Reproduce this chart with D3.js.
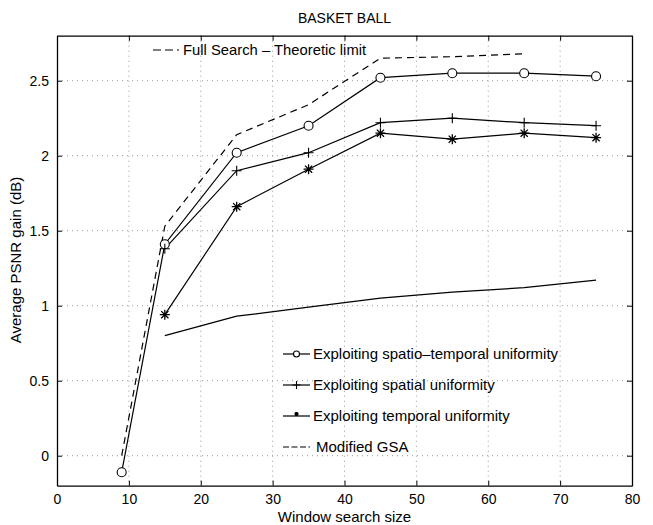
<!DOCTYPE html>
<html>
<head>
<meta charset="utf-8">
<script src="https://cdn.jsdelivr.net/npm/d3@7"></script>
<style>
  body { margin: 0; background: #fff; }
  svg { font-family: "Liberation Sans", Arial, Helvetica, sans-serif; }
</style>
</head>
<body>
<svg id="chart"></svg>
<script>
// ******************** Data ************************
var xFull = [9, 15, 25, 35, 45, 55, 65];
var fullSearch = [0.0, 1.53, 2.14, 2.34, 2.65, 2.66, 2.68];

var xSt = [9, 15, 25, 35, 45, 55, 65, 75];
var spatioTemporal = [-0.11, 1.41, 2.02, 2.2, 2.52, 2.55, 2.55, 2.53];

var xRest = [15, 25, 35, 45, 55, 65, 75];
var spatial = [1.38, 1.90, 2.02, 2.22, 2.25, 2.22, 2.20];
var temporal = [0.94, 1.66, 1.91, 2.15, 2.11, 2.15, 2.12];
var gsa = [0.80, 0.93, 0.99, 1.05, 1.09, 1.12, 1.17];

var xTicks = [0, 10, 20, 30, 40, 50, 60, 70, 80];
var yTicks = [0, 0.5, 1, 1.5, 2, 2.5];

var legendLabels = [
    "Exploiting spatio\u2013temporal uniformity",
    "Exploiting spatial uniformity",
    "Exploiting temporal uniformity",
    "Modified GSA"
];

// ******************** Setup ************************
var W = 653, H = 525;
var svg = d3.select("#chart").attr("width", W).attr("height", H);

var x = d3.scaleLinear().domain([0, 80]).range([57, 632]);
var y = d3.scaleLinear().domain([-0.2, 2.8]).range([485.7, 35.7]);

// grid
var grid = svg.append("g")
    .attr("stroke", "#999")
    .attr("stroke-width", 1)
    .attr("stroke-dasharray", "1,4");
grid.selectAll(".gx").data(xTicks.slice(1, -1)).enter().append("line")
    .attr("x1", x).attr("x2", x)
    .attr("y1", y(2.8)).attr("y2", y(-0.2));
grid.selectAll(".gy").data(yTicks).enter().append("line")
    .attr("x1", x(0)).attr("x2", x(80))
    .attr("y1", y).attr("y2", y);

// axes: ticks pointing inward, on all four sides
svg.append("g")
    .attr("transform", "translate(0," + y(-0.2) + ")")
    .call(d3.axisBottom(x).tickValues(xTicks).tickSizeInner(-5).tickSizeOuter(0).tickPadding(8));
svg.append("g")
    .attr("transform", "translate(0," + y(2.8) + ")")
    .call(d3.axisTop(x).tickValues(xTicks).tickSizeInner(-5).tickSizeOuter(0).tickFormat(""));
svg.append("g")
    .attr("transform", "translate(" + x(0) + ",0)")
    .call(d3.axisLeft(y).tickValues(yTicks).tickSizeInner(-5).tickSizeOuter(0).tickPadding(8).tickFormat(d3.format("")));
svg.append("g")
    .attr("transform", "translate(" + x(80) + ",0)")
    .call(d3.axisRight(y).tickValues(yTicks).tickSizeInner(-5).tickSizeOuter(0).tickFormat(""));

svg.selectAll(".domain").attr("stroke", "#000").attr("stroke-width", 1.3);
svg.selectAll(".tick line").attr("stroke", "#000");
svg.selectAll(".tick text").attr("font-size", 14).attr("fill", "#000")
    .attr("font-family", "Liberation Sans, Arial, sans-serif");

// ******************** Lines ************************
var line = d3.line();
function pts(xs, ys) { return xs.map(function (d, i) { return [x(d), y(ys[i])]; }); }

svg.append("path").attr("d", line(pts(xFull, fullSearch)))
    .attr("fill", "none").attr("stroke", "#000").attr("stroke-width", 1.2)
    .attr("stroke-dasharray", "7,5");

[[xSt, spatioTemporal], [xRest, spatial], [xRest, temporal], [xRest, gsa]].forEach(function (s) {
    svg.append("path").attr("d", line(pts(s[0], s[1])))
        .attr("fill", "none").attr("stroke", "#000").attr("stroke-width", 1.2);
});

// markers
function circleMark(g, px, py, r) {
    g.append("circle").attr("cx", px).attr("cy", py).attr("r", r)
        .attr("fill", "#fff").attr("stroke", "#000").attr("stroke-width", 1.1);
}
function plusMark(g, px, py, s) {
    g.append("path").attr("d", "M" + (px - s) + "," + py + "H" + (px + s) + "M" + px + "," + (py - s) + "V" + (py + s))
        .attr("stroke", "#000").attr("stroke-width", 1.1);
}
function starMark(g, px, py, s) {
    var d = s * 0.72;
    g.append("path").attr("d",
        "M" + (px - s) + "," + py + "H" + (px + s) +
        "M" + px + "," + (py - s) + "V" + (py + s) +
        "M" + (px - d) + "," + (py - d) + "L" + (px + d) + "," + (py + d) +
        "M" + (px - d) + "," + (py + d) + "L" + (px + d) + "," + (py - d))
        .attr("stroke", "#000").attr("stroke-width", 1.3);
}

var mk = svg.append("g");
xSt.forEach(function (d, i) { circleMark(mk, x(d), y(spatioTemporal[i]), 4.5); });
xRest.forEach(function (d, i) { plusMark(mk, x(d), y(spatial[i]), 5); });
xRest.forEach(function (d, i) { starMark(mk, x(d), y(temporal[i]), 5); });

// ******************** Text ************************
svg.append("text").attr("x", 344.5).attr("y", 23).attr("text-anchor", "middle")
    .attr("font-size", 14).text("BASKET BALL");
svg.append("text").attr("x", 344.5).attr("y", 522).attr("text-anchor", "middle")
    .attr("font-size", 15).text("Window search size");
svg.append("text").attr("transform", "translate(21,260) rotate(-90)").attr("text-anchor", "middle")
    .attr("font-size", 15).text("Average PSNR gain (dB)");

// top legend (full search)
svg.append("line").attr("x1", 153).attr("x2", 179).attr("y1", 50).attr("y2", 50)
    .attr("stroke", "#000").attr("stroke-width", 1.2).attr("stroke-dasharray", "8,4");
svg.append("text").attr("x", 183).attr("y", 55).attr("font-size", 14.8)
    .text("Full Search \u2013 Theoretic limit");

// bottom legend
var ly = [354, 385, 416, 447];
var lg = svg.append("g");
ly.forEach(function (yy, i) {
    if (i < 3) {
        lg.append("line").attr("x1", 283).attr("x2", 310).attr("y1", yy).attr("y2", yy)
            .attr("stroke", "#000").attr("stroke-width", 1.2);
    } else {
        lg.append("line").attr("x1", 283).attr("x2", 310).attr("y1", yy).attr("y2", yy)
            .attr("stroke", "#000").attr("stroke-width", 1.2).attr("stroke-dasharray", "6,2.5");
    }
    if (i === 0) circleMark(lg, 296.5, yy, 3);
    if (i === 1) plusMark(lg, 296.5, yy, 4);
    if (i === 2) starMark(lg, 296.5, yy - 2, 2);
    lg.append("text").attr("x", i === 3 ? 316 : 313).attr("y", yy + 5).attr("font-size", 15)
        .text(legendLabels[i]);
});
</script>
</body>
</html>
